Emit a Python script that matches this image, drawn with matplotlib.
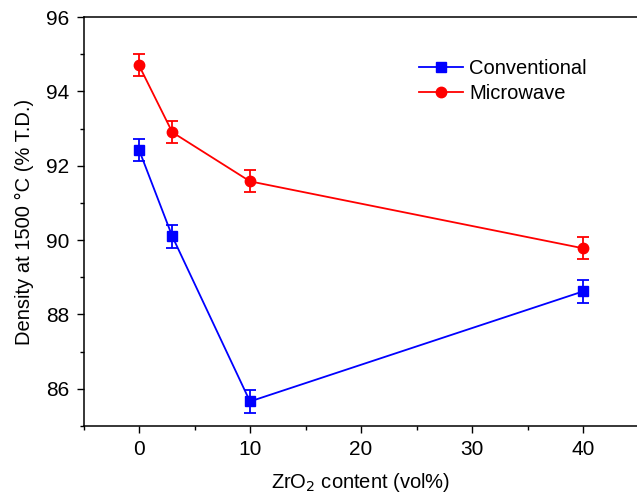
import matplotlib
matplotlib.use("Agg")
import matplotlib.pyplot as plt
from matplotlib.ticker import MultipleLocator
from matplotlib.lines import Line2D

plt.rcParams['font.family'] = ['Liberation Sans', 'DejaVu Sans']

zro2 = [0, 3, 10, 40]
conventional = [92.43, 90.1, 85.66, 88.62]
conventional_err = [0.3, 0.3, 0.3, 0.3]
microwave = [94.7, 92.9, 91.58, 89.78]
microwave_err = [0.3, 0.3, 0.3, 0.3]

fig = plt.figure(figsize=(6.37, 4.98), dpi=100)
ax = fig.add_axes([83.5/637, 1-426/498, (638.5-83.5)/637, (426-17)/498])

ax.errorbar(zro2, conventional, yerr=conventional_err, color='#0000ff', marker='s',
            markersize=6.5, linewidth=1.3, capsize=4, capthick=1.3, elinewidth=1.3)
ax.errorbar(zro2, microwave, yerr=microwave_err, color='#ff0000', marker='o',
            markersize=7.5, linewidth=1.3, capsize=4, capthick=1.3, elinewidth=1.3)

ax.set_xlim(-5, 45)
ax.set_ylim(85, 96)
ax.xaxis.set_major_locator(MultipleLocator(10))
ax.xaxis.set_minor_locator(MultipleLocator(5))
ax.yaxis.set_major_locator(MultipleLocator(2))
ax.yaxis.set_minor_locator(MultipleLocator(1))
ax.tick_params(which='major', direction='out', length=5, width=1, labelsize=15)
ax.tick_params(which='minor', direction='out', length=3, width=1)
ax.tick_params(axis='x', pad=5)
ax.tick_params(axis='y', pad=5)
for s in ax.spines.values():
    s.set_linewidth(1.1)
ax.spines['right'].set_visible(False)

ax.set_xlabel('ZrO$_2$ content (vol%)', fontsize=14.5, labelpad=9)
ax.set_ylabel('Density at 1500 °C (% T.D.)', fontsize=14.5, labelpad=9)

handles = [
    Line2D([], [], color='#0000ff', marker='s', markersize=6.5, linewidth=1.3),
    Line2D([], [], color='#ff0000', marker='o', markersize=7.5, linewidth=1.3),
]
ax.legend(handles, ['Conventional', 'Microwave'], loc='upper left',
          bbox_to_anchor=(0.59, 0.918), frameon=False,
          fontsize=14.5, handlelength=2.2, handletextpad=0.3, labelspacing=0.3,
          borderaxespad=0)

fig.savefig('out.png', dpi=100)
